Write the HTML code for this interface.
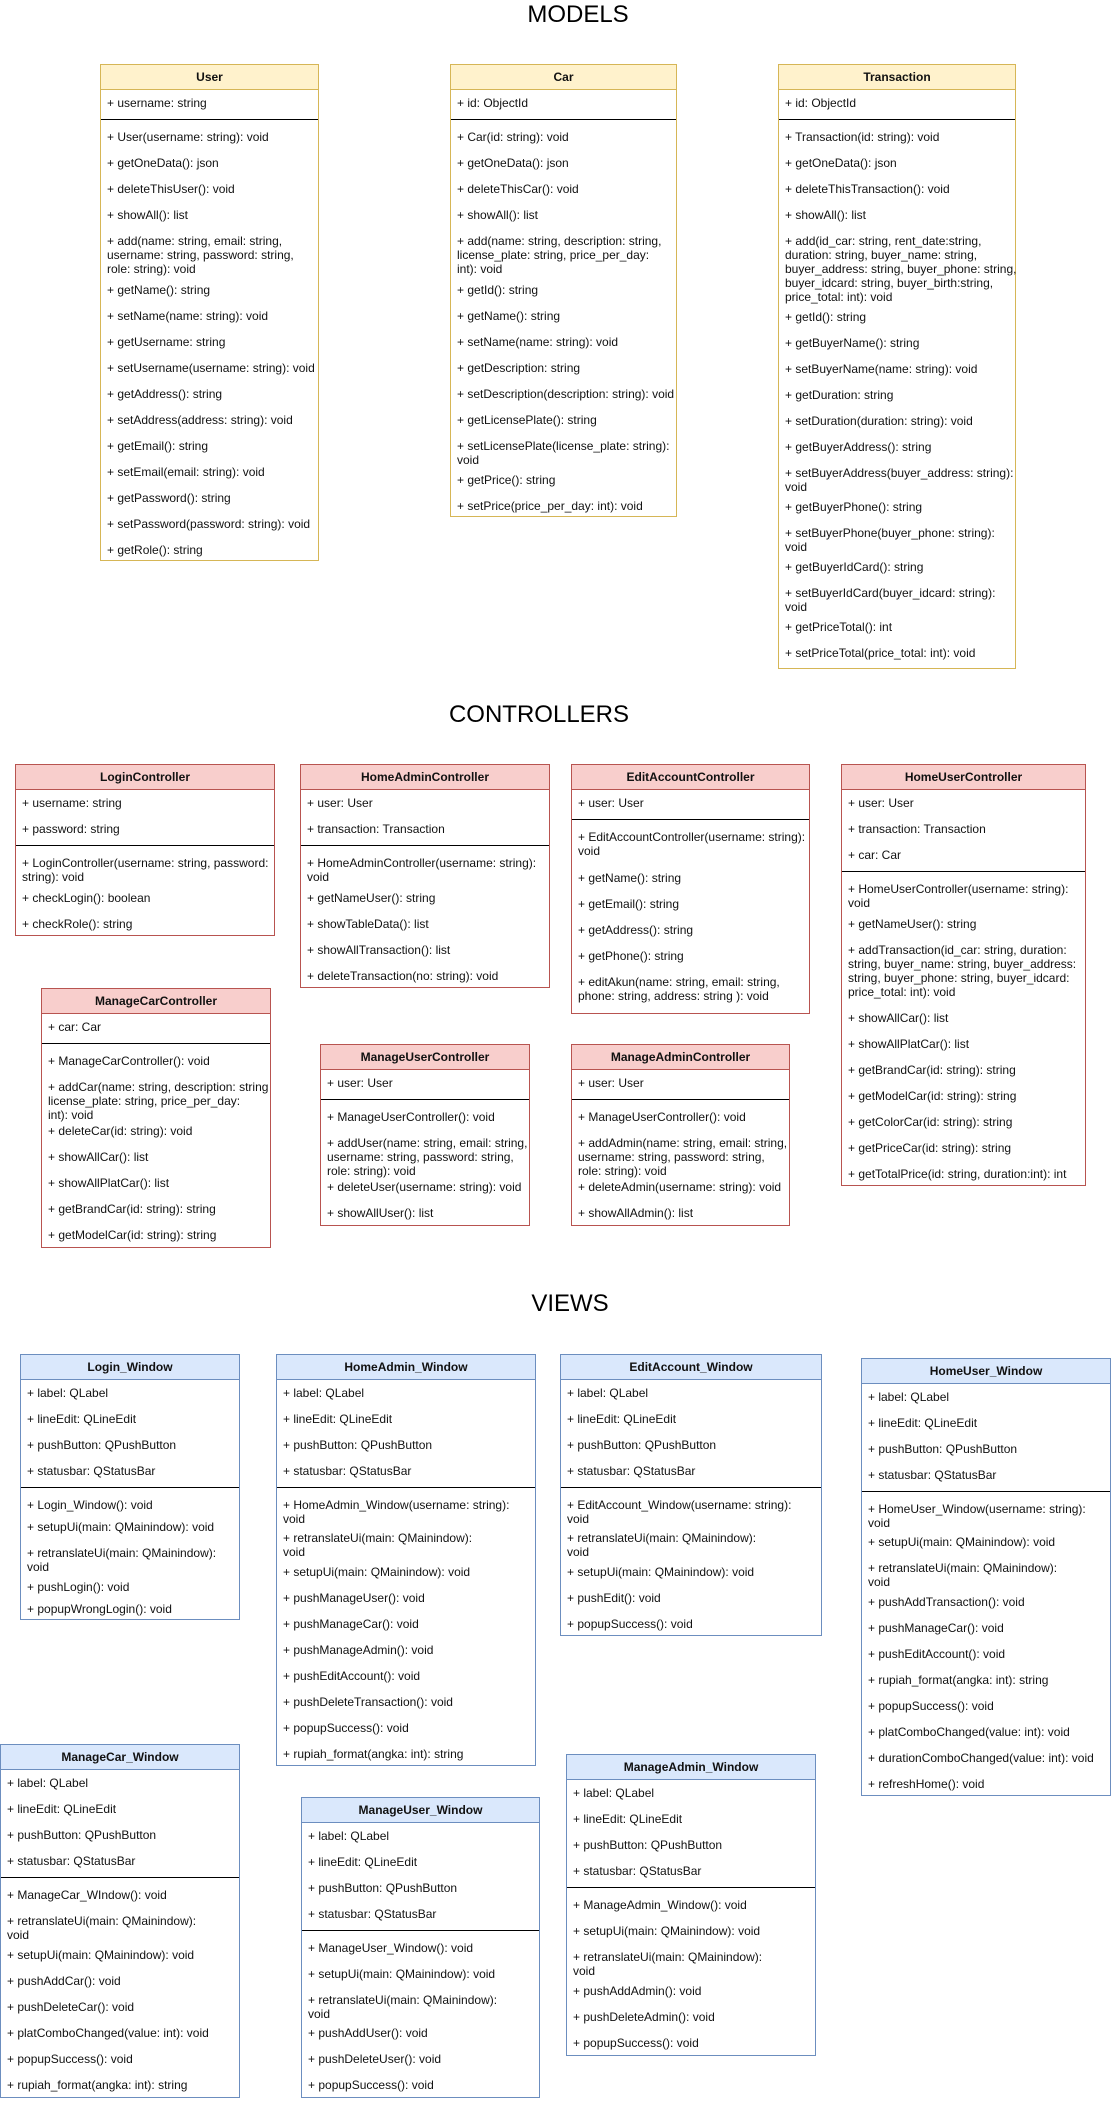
<!DOCTYPE html>
<html><head><meta charset="utf-8"><style>
body{margin:0;width:1112px;height:2101px;background:#fff;position:relative;overflow:hidden}
.t{position:absolute;font:24px "Liberation Sans",sans-serif;color:#000;transform:translate(-50%,-50%);white-space:nowrap}
.b{position:absolute;box-sizing:border-box;border:1px solid;background:#fff;font:12px/14px "Liberation Sans",sans-serif;color:#111}
.b .h{height:24px;line-height:24px;text-align:center;font-weight:bold;border-bottom:1px solid}
.b .r{height:26px;box-sizing:border-box;padding:6px 2px 0 6px;white-space:nowrap;overflow:visible}
.b .d{height:8px;position:relative}
.b .d:after{content:"";position:absolute;left:0;right:0;top:3px;border-top:1px solid #000}
.m{border-color:#d6b656}.m .h{background:#fff2cc;border-color:#d6b656}
.c{border-color:#b85450}.c .h{background:#f8cecc;border-color:#b85450}
.v{border-color:#6c8ebf}.v .h{background:#dae8fc;border-color:#6c8ebf}
</style></head><body>
<div class="t" style="left:578px;top:15px">MODELS</div>
<div class="t" style="left:539px;top:715px">CONTROLLERS</div>
<div class="t" style="left:570px;top:1304px">VIEWS</div>

<div class="b m" style="left:100px;top:64px;width:219px;height:497px">
<div class="h">User</div>
<div class="r">+ username: string</div>
<div class="d"></div>
<div class="r">+ User(username: string): void</div>
<div class="r">+ getOneData(): json</div>
<div class="r">+ deleteThisUser(): void</div>
<div class="r">+ showAll(): list</div>
<div class="r" style="height:49px">+ add(name: string, email: string,<br>username: string, password: string,<br>role: string): void</div>
<div class="r">+ getName(): string</div>
<div class="r">+ setName(name: string): void</div>
<div class="r">+ getUsername: string</div>
<div class="r">+ setUsername(username: string): void</div>
<div class="r">+ getAddress(): string</div>
<div class="r">+ setAddress(address: string): void</div>
<div class="r">+ getEmail(): string</div>
<div class="r">+ setEmail(email: string): void</div>
<div class="r">+ getPassword(): string</div>
<div class="r">+ setPassword(password: string): void</div>
<div class="r">+ getRole(): string</div>
</div>

<div class="b m" style="left:450px;top:64px;width:227px;height:453px">
<div class="h">Car</div>
<div class="r">+ id: ObjectId</div>
<div class="d"></div>
<div class="r">+ Car(id: string): void</div>
<div class="r">+ getOneData(): json</div>
<div class="r">+ deleteThisCar(): void</div>
<div class="r">+ showAll(): list</div>
<div class="r" style="height:49px">+ add(name: string, description: string,<br>license_plate: string, price_per_day:<br>int): void</div>
<div class="r">+ getId(): string</div>
<div class="r">+ getName(): string</div>
<div class="r">+ setName(name: string): void</div>
<div class="r">+ getDescription: string</div>
<div class="r">+ setDescription(description: string): void</div>
<div class="r">+ getLicensePlate(): string</div>
<div class="r" style="height:34px">+ setLicensePlate(license_plate: string):<br>void</div>
<div class="r">+ getPrice(): string</div>
<div class="r">+ setPrice(price_per_day: int): void</div>
</div>

<div class="b m" style="left:778px;top:64px;width:238px;height:605px">
<div class="h">Transaction</div>
<div class="r">+ id: ObjectId</div>
<div class="d"></div>
<div class="r">+ Transaction(id: string): void</div>
<div class="r">+ getOneData(): json</div>
<div class="r">+ deleteThisTransaction(): void</div>
<div class="r">+ showAll(): list</div>
<div class="r" style="height:76px">+ add(id_car: string, rent_date:string,<br>duration: string, buyer_name: string,<br>buyer_address: string, buyer_phone: string,<br>buyer_idcard: string, buyer_birth:string,<br>price_total: int): void</div>
<div class="r">+ getId(): string</div>
<div class="r">+ getBuyerName(): string</div>
<div class="r">+ setBuyerName(name: string): void</div>
<div class="r">+ getDuration: string</div>
<div class="r">+ setDuration(duration: string): void</div>
<div class="r">+ getBuyerAddress(): string</div>
<div class="r" style="height:34px">+ setBuyerAddress(buyer_address: string):<br>void</div>
<div class="r">+ getBuyerPhone(): string</div>
<div class="r" style="height:34px">+ setBuyerPhone(buyer_phone: string):<br>void</div>
<div class="r">+ getBuyerIdCard(): string</div>
<div class="r" style="height:34px">+ setBuyerIdCard(buyer_idcard: string):<br>void</div>
<div class="r">+ getPriceTotal(): int</div>
<div class="r">+ setPriceTotal(price_total: int): void</div>
</div>

<div class="b c" style="left:15px;top:764px;width:260px;height:172px">
<div class="h">LoginController</div>
<div class="r">+ username: string</div>
<div class="r">+ password: string</div>
<div class="d"></div>
<div class="r" style="height:35px">+ LoginController(username: string, password:<br>string): void</div>
<div class="r">+ checkLogin(): boolean</div>
<div class="r">+ checkRole(): string</div>
</div>

<div class="b c" style="left:300px;top:764px;width:250px;height:224px">
<div class="h">HomeAdminController</div>
<div class="r">+ user: User</div>
<div class="r">+ transaction: Transaction</div>
<div class="d"></div>
<div class="r" style="height:35px">+ HomeAdminController(username: string):<br>void</div>
<div class="r">+ getNameUser(): string</div>
<div class="r">+ showTableData(): list</div>
<div class="r">+ showAllTransaction(): list</div>
<div class="r">+ deleteTransaction(no: string): void</div>
</div>

<div class="b c" style="left:571px;top:764px;width:239px;height:250px">
<div class="h">EditAccountController</div>
<div class="r">+ user: User</div>
<div class="d"></div>
<div class="r" style="height:41px">+ EditAccountController(username: string):<br>void</div>
<div class="r">+ getName(): string</div>
<div class="r">+ getEmail(): string</div>
<div class="r">+ getAddress(): string</div>
<div class="r">+ getPhone(): string</div>
<div class="r" style="height:45px">+ editAkun(name: string, email: string,<br>phone: string, address: string ): void</div>
</div>

<div class="b c" style="left:841px;top:764px;width:245px;height:422px">
<div class="h">HomeUserController</div>
<div class="r">+ user: User</div>
<div class="r">+ transaction: Transaction</div>
<div class="r">+ car: Car</div>
<div class="d"></div>
<div class="r" style="height:35px">+ HomeUserController(username: string):<br>void</div>
<div class="r">+ getNameUser(): string</div>
<div class="r" style="height:68px">+ addTransaction(id_car: string, duration:<br>string, buyer_name: string, buyer_address:<br>string, buyer_phone: string, buyer_idcard:<br>price_total: int): void</div>
<div class="r">+ showAllCar(): list</div>
<div class="r">+ showAllPlatCar(): list</div>
<div class="r">+ getBrandCar(id: string): string</div>
<div class="r">+ getModelCar(id: string): string</div>
<div class="r">+ getColorCar(id: string): string</div>
<div class="r">+ getPriceCar(id: string): string</div>
<div class="r">+ getTotalPrice(id: string, duration:int): int</div>
</div>

<div class="b c" style="left:41px;top:988px;width:230px;height:260px">
<div class="h">ManageCarController</div>
<div class="r">+ car: Car</div>
<div class="d"></div>
<div class="r">+ ManageCarController(): void</div>
<div class="r" style="height:44px">+ addCar(name: string, description: string<br>license_plate: string, price_per_day:<br>int): void</div>
<div class="r">+ deleteCar(id: string): void</div>
<div class="r">+ showAllCar(): list</div>
<div class="r">+ showAllPlatCar(): list</div>
<div class="r">+ getBrandCar(id: string): string</div>
<div class="r">+ getModelCar(id: string): string</div>
</div>

<div class="b c" style="left:320px;top:1044px;width:210px;height:182px">
<div class="h">ManageUserController</div>
<div class="r">+ user: User</div>
<div class="d"></div>
<div class="r">+ ManageUserController(): void</div>
<div class="r" style="height:44px">+ addUser(name: string, email: string,<br>username: string, password: string,<br>role: string): void</div>
<div class="r">+ deleteUser(username: string): void</div>
<div class="r">+ showAllUser(): list</div>
</div>

<div class="b c" style="left:571px;top:1044px;width:219px;height:182px">
<div class="h">ManageAdminController</div>
<div class="r">+ user: User</div>
<div class="d"></div>
<div class="r">+ ManageUserController(): void</div>
<div class="r" style="height:44px">+ addAdmin(name: string, email: string,<br>username: string, password: string,<br>role: string): void</div>
<div class="r">+ deleteAdmin(username: string): void</div>
<div class="r">+ showAllAdmin(): list</div>
</div>

<div class="b v" style="left:20px;top:1354px;width:220px;height:266px">
<div class="h">Login_Window</div>
<div class="r">+ label: QLabel</div>
<div class="r">+ lineEdit: QLineEdit</div>
<div class="r">+ pushButton: QPushButton</div>
<div class="r">+ statusbar: QStatusBar</div>
<div class="d"></div>
<div class="r" style="height:22px">+ Login_Window(): void</div>
<div class="r">+ setupUi(main: QMainindow): void</div>
<div class="r" style="height:34px">+ retranslateUi(main: QMainindow):<br>void</div>
<div class="r" style="height:22px">+ pushLogin(): void</div>
<div class="r" style="height:24px">+ popupWrongLogin(): void</div>
</div>

<div class="b v" style="left:276px;top:1354px;width:260px;height:412px">
<div class="h">HomeAdmin_Window</div>
<div class="r">+ label: QLabel</div>
<div class="r">+ lineEdit: QLineEdit</div>
<div class="r">+ pushButton: QPushButton</div>
<div class="r">+ statusbar: QStatusBar</div>
<div class="d"></div>
<div class="r" style="height:33px">+ HomeAdmin_Window(username: string):<br>void</div>
<div class="r" style="height:34px">+ retranslateUi(main: QMainindow):<br>void</div>
<div class="r">+ setupUi(main: QMainindow): void</div>
<div class="r">+ pushManageUser(): void</div>
<div class="r">+ pushManageCar(): void</div>
<div class="r">+ pushManageAdmin(): void</div>
<div class="r">+ pushEditAccount(): void</div>
<div class="r">+ pushDeleteTransaction(): void</div>
<div class="r">+ popupSuccess(): void</div>
<div class="r">+ rupiah_format(angka: int): string</div>
</div>

<div class="b v" style="left:560px;top:1354px;width:262px;height:282px">
<div class="h">EditAccount_Window</div>
<div class="r">+ label: QLabel</div>
<div class="r">+ lineEdit: QLineEdit</div>
<div class="r">+ pushButton: QPushButton</div>
<div class="r">+ statusbar: QStatusBar</div>
<div class="d"></div>
<div class="r" style="height:33px">+ EditAccount_Window(username: string):<br>void</div>
<div class="r" style="height:34px">+ retranslateUi(main: QMainindow):<br>void</div>
<div class="r">+ setupUi(main: QMainindow): void</div>
<div class="r">+ pushEdit(): void</div>
<div class="r">+ popupSuccess(): void</div>
</div>

<div class="b v" style="left:861px;top:1358px;width:250px;height:438px">
<div class="h">HomeUser_Window</div>
<div class="r">+ label: QLabel</div>
<div class="r">+ lineEdit: QLineEdit</div>
<div class="r">+ pushButton: QPushButton</div>
<div class="r">+ statusbar: QStatusBar</div>
<div class="d"></div>
<div class="r" style="height:33px">+ HomeUser_Window(username: string):<br>void</div>
<div class="r">+ setupUi(main: QMainindow): void</div>
<div class="r" style="height:34px">+ retranslateUi(main: QMainindow):<br>void</div>
<div class="r">+ pushAddTransaction(): void</div>
<div class="r">+ pushManageCar(): void</div>
<div class="r">+ pushEditAccount(): void</div>
<div class="r">+ rupiah_format(angka: int): string</div>
<div class="r">+ popupSuccess(): void</div>
<div class="r">+ platComboChanged(value: int): void</div>
<div class="r">+ durationComboChanged(value: int): void</div>
<div class="r">+ refreshHome(): void</div>
</div>

<div class="b v" style="left:0px;top:1744px;width:240px;height:354px">
<div class="h">ManageCar_Window</div>
<div class="r">+ label: QLabel</div>
<div class="r">+ lineEdit: QLineEdit</div>
<div class="r">+ pushButton: QPushButton</div>
<div class="r">+ statusbar: QStatusBar</div>
<div class="d"></div>
<div class="r">+ ManageCar_WIndow(): void</div>
<div class="r" style="height:34px">+ retranslateUi(main: QMainindow):<br>void</div>
<div class="r">+ setupUi(main: QMainindow): void</div>
<div class="r">+ pushAddCar(): void</div>
<div class="r">+ pushDeleteCar(): void</div>
<div class="r">+ platComboChanged(value: int): void</div>
<div class="r">+ popupSuccess(): void</div>
<div class="r">+ rupiah_format(angka: int): string</div>
</div>

<div class="b v" style="left:301px;top:1797px;width:239px;height:301px">
<div class="h">ManageUser_Window</div>
<div class="r">+ label: QLabel</div>
<div class="r">+ lineEdit: QLineEdit</div>
<div class="r">+ pushButton: QPushButton</div>
<div class="r">+ statusbar: QStatusBar</div>
<div class="d"></div>
<div class="r">+ ManageUser_Window(): void</div>
<div class="r">+ setupUi(main: QMainindow): void</div>
<div class="r" style="height:33px">+ retranslateUi(main: QMainindow):<br>void</div>
<div class="r">+ pushAddUser(): void</div>
<div class="r">+ pushDeleteUser(): void</div>
<div class="r">+ popupSuccess(): void</div>
</div>

<div class="b v" style="left:566px;top:1754px;width:250px;height:302px">
<div class="h">ManageAdmin_Window</div>
<div class="r">+ label: QLabel</div>
<div class="r">+ lineEdit: QLineEdit</div>
<div class="r">+ pushButton: QPushButton</div>
<div class="r">+ statusbar: QStatusBar</div>
<div class="d"></div>
<div class="r">+ ManageAdmin_Window(): void</div>
<div class="r">+ setupUi(main: QMainindow): void</div>
<div class="r" style="height:34px">+ retranslateUi(main: QMainindow):<br>void</div>
<div class="r">+ pushAddAdmin(): void</div>
<div class="r">+ pushDeleteAdmin(): void</div>
<div class="r">+ popupSuccess(): void</div>
</div>
</body></html>
